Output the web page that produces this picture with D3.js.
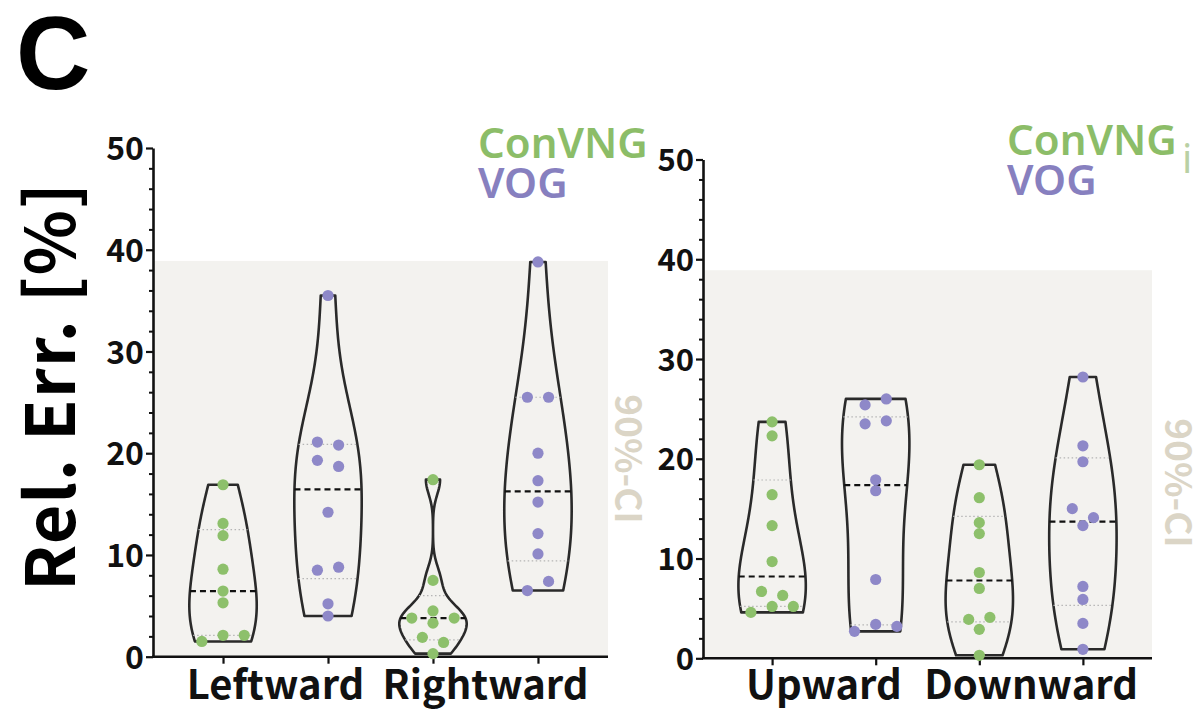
<!DOCTYPE html>
<html>
<head>
<meta charset="utf-8">
<script src="https://cdn.jsdelivr.net/npm/d3@7"></script>
<style>
  body { margin: 0; background: #fff; }
  svg { display: block; }
  .axis text { font-family: "Noto Sans CJK JP", sans-serif; font-weight: 700; fill: #111; }
  .axis path, .axis line { stroke: #111; }
</style>
</head>
<body>
<div id="chart"></div>
<script>
// カテゴリと系列
var groups = ['ConVNG', 'VOG'];
var groupColors = ['#8dc06b', '#8e88c8'];
var legendColors = ['#8cbd68', '#8780bf'];
var horizCategories = ['Leftward', 'Rightward'];
var vertCategories = ['Upward', 'Downward'];

// 相対誤差 [%]
var leftwardConVNG = [16.9, 13.1, 11.9, 8.6, 6.45, 5.3, 1.5, 2.1, 2.1];
var leftwardVOG = [35.5, 21.1, 20.8, 19.3, 18.7, 14.2, 8.5, 8.8, 5.2, 4.0];
var rightwardConVNG = [17.4, 7.5, 3.8, 4.5, 3.8, 3.3, 1.9, 1.4, 0.3];
var rightwardVOG = [38.8, 25.5, 25.5, 20.0, 17.3, 15.2, 12.1, 10.1, 6.5, 7.4];
var upwardConVNG = [23.7, 22.3, 16.4, 13.3, 9.7, 6.7, 6.3, 4.6, 5.2, 5.2];
var upwardVOG = [25.4, 26.0, 23.5, 23.8, 17.9, 16.8, 7.9, 2.7, 3.4, 3.2];
var downwardConVNG = [19.4, 16.1, 13.6, 12.5, 8.6, 7.0, 3.9, 4.1, 2.9, 0.3];
var downwardVOG = [28.2, 21.3, 19.7, 15.0, 14.1, 13.3, 7.2, 5.9, 3.5, 0.9];

// 90%信頼区間の上限
var ciUpper = 38.9;
var ciLabel = '90%-CI';

// 軸
var yDomain = [0, 50];
var yMajorTicks = [0, 10, 20, 30, 40, 50];
var yMinorTicks = [2, 4, 6, 8, 12, 14, 16, 18, 22, 24, 26, 28, 32, 34, 36, 38, 42, 44, 46, 48];

var width = 1204;
var height = 710;

var svg = d3.select('#chart').append('svg')
  .attr('width', width)
  .attr('height', height);

svg.append('rect').attr('width', width).attr('height', height).attr('fill', '#fff');

// 左右のパネル
var panels = [
  {
    categories: horizCategories,
    series: [[leftwardConVNG, leftwardVOG], [rightwardConVNG, rightwardVOG]],
    left: 153, right: 608, top: 148, bottom: 656.7,
    tickFont: 32,
    legendX: 478, legendY: 158,
    ciX: 615, ciY: 459
  },
  {
    categories: vertCategories,
    series: [[upwardConVNG, upwardVOG], [downwardConVNG, downwardVOG]],
    left: 703, right: 1152, top: 159.5, bottom: 658.3,
    tickFont: 31,
    legendX: 1007, legendY: 155,
    ciX: 1165, ciY: 483
  }
];

// Prism風の四分位 (n+1)p
function quartile(sorted, p) {
  var pos = (sorted.length + 1) * p - 1;
  pos = Math.max(0, Math.min(sorted.length - 1, pos));
  var lo = Math.floor(pos), hi = Math.ceil(pos);
  return sorted[lo] + (pos - lo) * (sorted[hi] - sorted[lo]);
}

// カーネル幅（Silvermanより少し広め）
function bandwidth(values) {
  var s = values.slice().sort(d3.ascending);
  var sd = d3.deviation(s);
  var iqr = d3.quantile(s, 0.75) - d3.quantile(s, 0.25);
  var spread = Math.min(sd, iqr / 1.34);
  return 1.15 * spread * Math.pow(s.length, -0.2);
}

function kde(values, h) {
  return function(y) {
    return d3.sum(values, function(v) {
      var u = (y - v) / h;
      return Math.exp(-0.5 * u * u);
    });
  };
}

panels.forEach(function(p) {
  var g = svg.append('g');

  var y = d3.scaleLinear().domain(yDomain).range([p.bottom, p.top]);

  var keys = [];
  p.categories.forEach(function(c) {
    groups.forEach(function(s) { keys.push(c + '|' + s); });
  });
  var x = d3.scalePoint().domain(keys).range([p.left, p.right]).padding(0.667);

  // 90%-CI 背景
  g.append('rect')
    .attr('x', p.left)
    .attr('y', y(ciUpper))
    .attr('width', p.right - p.left)
    .attr('height', y(0) - y(ciUpper))
    .attr('fill', '#f3f2ef');

  // 軸
  var minorAxis = g.append('g')
    .attr('class', 'axis')
    .attr('transform', 'translate(' + p.left + ',0)')
    .call(d3.axisLeft(y).tickValues(yMinorTicks).tickSize(4).tickFormat(''));
  minorAxis.select('.domain').remove();
  minorAxis.selectAll('line').attr('stroke-width', 2);

  var majorAxis = g.append('g')
    .attr('class', 'axis')
    .attr('transform', 'translate(' + p.left + ',0)')
    .call(d3.axisLeft(y).tickValues(yMajorTicks).tickSize(7).tickSizeOuter(0).tickPadding(2));
  majorAxis.select('.domain').attr('stroke-width', 2.6);
  majorAxis.selectAll('line').attr('stroke-width', 2.2);
  majorAxis.selectAll('text').attr('font-size', p.tickFont).attr('dy', '0.36em');

  var xAxis = g.append('g')
    .attr('class', 'axis')
    .attr('transform', 'translate(0,' + p.bottom + ')')
    .call(d3.axisBottom(x).tickSize(7).tickSizeOuter(0).tickFormat(''));
  xAxis.select('.domain')
    .attr('d', 'M' + (p.left - 1) + ',0H' + p.right)
    .attr('stroke-width', 2.6);
  xAxis.selectAll('line').attr('stroke-width', 2.2);

  // カテゴリ名
  p.categories.forEach(function(c) {
    var cx = (x(c + '|' + groups[0]) + x(c + '|' + groups[1])) / 2;
    g.append('text')
      .attr('x', cx)
      .attr('y', 699)
      .attr('text-anchor', 'middle')
      .attr('font-family', '"Noto Sans CJK JP", sans-serif')
      .attr('font-weight', 700)
      .attr('font-size', 40)
      .attr('fill', '#111')
      .text(c);
  });

  var maxHalf = 33.7;

  p.categories.forEach(function(c, ci) {
    p.series[ci].forEach(function(values, si) {
      var cx = x(c + '|' + groups[si]);
      var sorted = values.slice().sort(d3.ascending);
      var lo = sorted[0], hi = sorted[sorted.length - 1];
      var dens = kde(values, bandwidth(values));
      var samples = d3.range(121).map(function(i) {
        var v = lo + (hi - lo) * i / 120;
        return { v: v, d: dens(v) };
      });
      var hw = d3.scaleLinear()
        .domain([0, d3.max(samples, function(d) { return d.d; })])
        .range([0, maxHalf]);

      var area = d3.area()
        .y(function(d) { return y(d.v); })
        .x0(function(d) { return cx - hw(d.d); })
        .x1(function(d) { return cx + hw(d.d); });

      g.append('path')
        .datum(samples)
        .attr('d', area)
        .attr('fill', 'none')
        .attr('stroke', '#2a2a2a')
        .attr('stroke-width', 2.6)
        .attr('stroke-linejoin', 'round');

      // 四分位（点線）と中央値（破線）
      [0.25, 0.75].forEach(function(q) {
        var v = quartile(sorted, q);
        var w = hw(dens(v));
        g.append('line')
          .attr('x1', cx - w).attr('x2', cx + w)
          .attr('y1', y(v)).attr('y2', y(v))
          .attr('stroke', '#b5b5b5')
          .attr('stroke-width', 1.2)
          .attr('stroke-dasharray', '1.5,2.5');
      });
      var med = quartile(sorted, 0.5);
      var mw = hw(dens(med));
      g.append('line')
        .attr('x1', cx - mw).attr('x2', cx + mw)
        .attr('y1', y(med)).attr('y2', y(med))
        .attr('stroke', '#111')
        .attr('stroke-width', 2.2)
        .attr('stroke-dasharray', '6,4');

      // ドットの配置（近い値は横に並べる）
      var pts = values.map(function(v, i) { return { v: v, i: i, py: y(v) }; });
      var order = pts.slice().sort(function(a, b) { return a.py - b.py || a.i - b.i; });
      var rows = [];
      order.forEach(function(pt) {
        var row = rows[rows.length - 1];
        if (row && pt.py - row[0].py < 10.5) {
          row.push(pt);
        } else {
          rows.push([pt]);
        }
      });
      rows.forEach(function(row) {
        row.sort(function(a, b) { return a.i - b.i; });
        row.forEach(function(pt, k) {
          pt.px = cx + (k - (row.length - 1) / 2) * 21.2;
        });
      });

      g.selectAll(null)
        .data(pts)
        .enter()
        .append('circle')
        .attr('cx', function(d) { return d.px; })
        .attr('cy', function(d) { return d.py; })
        .attr('r', 5.6)
        .attr('fill', groupColors[si]);
    });
  });

  // 凡例
  groups.forEach(function(s, i) {
    g.append('text')
      .attr('x', p.legendX)
      .attr('y', p.legendY + i * 40)
      .attr('font-family', '"Noto Sans", sans-serif')
      .attr('font-weight', 600)
      .attr('font-size', 42)
      .attr('fill', legendColors[i])
      .text(s);
  });

  // 90%-CI ラベル
  g.append('text')
    .attr('transform', 'translate(' + p.ciX + ',' + p.ciY + ') rotate(90)')
    .attr('text-anchor', 'middle')
    .attr('font-family', '"Noto Sans CJK JP", sans-serif')
    .attr('font-weight', 700)
    .attr('font-size', 37)
    .attr('fill', '#dbd5c6')
    .text(ciLabel);
});

// 切れた凡例の一部
svg.append('text')
  .attr('x', 1182)
  .attr('y', 173)
  .attr('font-family', '"Noto Sans", sans-serif')
  .attr('font-size', 40)
  .attr('fill', '#b9d0a4')
  .text('i');

// Y軸タイトル
svg.append('text')
  .attr('transform', 'translate(75,387) rotate(-90)')
  .attr('text-anchor', 'middle')
  .attr('font-family', '"Noto Sans CJK JP", sans-serif')
  .attr('font-weight', 700)
  .attr('font-size', 68)
  .attr('textLength', 408)
  .attr('lengthAdjust', 'spacing')
  .attr('fill', '#000')
  .text('Rel. Err. [%]');

// パネル記号
svg.append('text')
  .attr('x', 16)
  .attr('y', 89)
  .attr('font-family', '"Liberation Sans", Arial, sans-serif')
  .attr('font-weight', 700)
  .attr('font-size', 103)
  .attr('fill', '#000')
  .text('C');
</script>
</body>
</html>
